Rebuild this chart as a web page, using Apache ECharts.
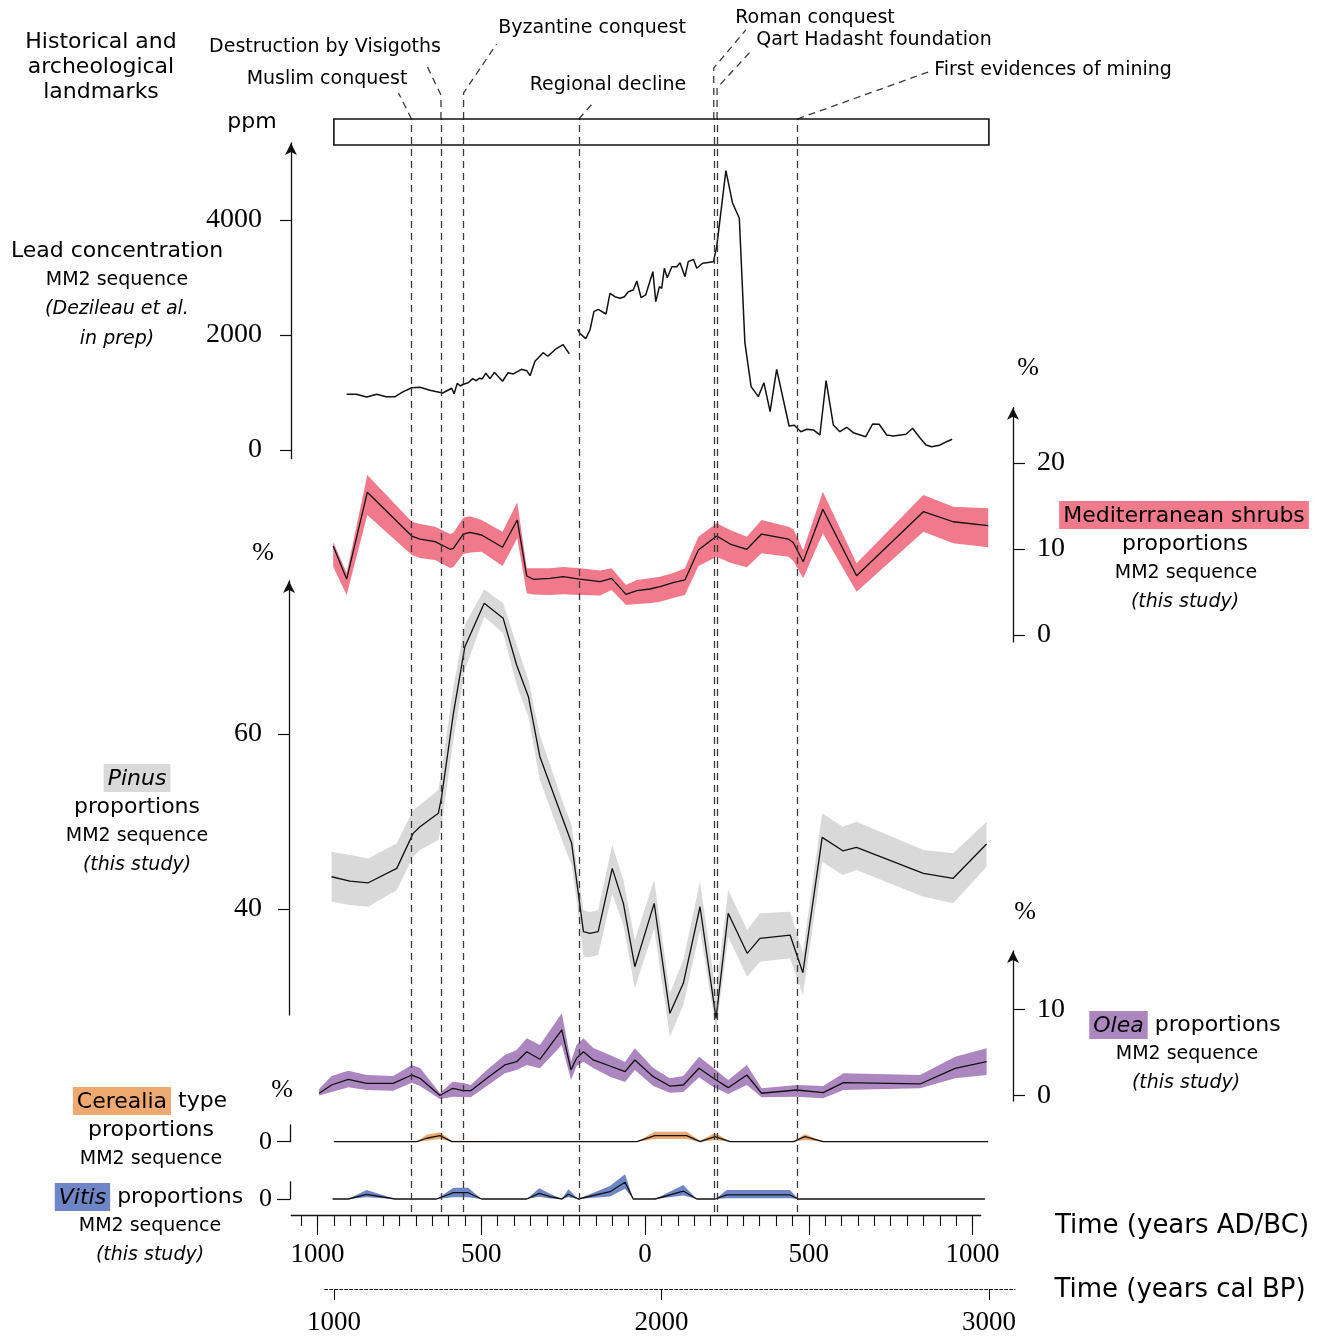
<!DOCTYPE html>
<html><head><meta charset="utf-8">
<script src="https://cdn.jsdelivr.net/npm/echarts@6/dist/echarts.min.js"></script>
<style>html,body{margin:0;padding:0;background:#fff}#c{width:1326px;height:1336px}</style>
</head><body><div id="c"></div>
<script>
// ---------------- DATA (years: AD positive, BC negative) ----------------
const leadYears = [911,882,850,819,791,763,738,712,687,657,618,590,583,573,564,555,540,526,516,506,497,486,473,460,435,418,402,377,361,351,336,311,297,272,250,244,231,218,206,199,181,168,156,143,119,107,92,76,63,51,36,25,12,-2,-24,-33,-44,-51,-59,-68,-82,-97,-107,-122,-132,-148,-158,-176,-209,-219,-247,-267,-288,-305,-324,-346,-363,-382,-402,-440,-456,-476,-494,-514,-534,-553,-575,-595,-616,-636,-674,-695,-715,-738,-758,-797,-817,-838,-858,-875,-899,-921,-938];
const leadPpm = [969,969,922,969,927,927,1014,1083,1090,1038,991,1073,979,1160,1113,1143,1170,1240,1205,1247,1235,1334,1240,1351,1195,1344,1322,1403,1379,1292,1543,1692,1630,1757,1831,1838,1670,null,2099,2030,1936,2087,2405,2447,2365,2725,2666,2638,2666,2753,2783,2939,2649,2696,3101,2579,2840,2812,3160,2996,3188,3188,3257,3014,3275,3316,3160,3247,3275,3536,4857,4301,4029,1866,1101,927,1170,666,1403,417,430,318,360,348,261,1205,435,318,395,301,231,452,447,261,243,273,377,221,87,57,82,144,186];

const shrubYears = [952,911,848,712,687,641,595,585,555,534,499,435,390,361,341,290,250,199,137,102,58,25,-15,-46,-86,-122,-163,-219,-260,-311,-356,-438,-453,-483,-543,-646,-850,-941,-1048];
const shrubMean  = [10.35,6.51,16.59,11.51,11.16,10.85,9.97,10.08,11.74,11.94,11.63,10.2,13.37,6.86,6.48,6.59,6.78,6.51,6.2,6.59,4.73,5.15,5.35,5.62,6.08,6.4,9.88,11.51,10.58,9.97,11.74,11.16,10.73,8.52,14.62,6.9,14.34,13.17,12.71];
const shrubLow   = [7.94,4.65,13.95,9.3,8.95,8.72,7.79,7.9,9.42,9.6,9.69,8.02,11.24,4.85,4.7,4.65,4.75,4.65,4.6,5.23,3.49,3.6,3.7,3.87,4.3,4.65,8.02,9.1,8.4,7.87,9.5,9.1,8.6,6.59,11.83,5.03,12.01,10.66,10.2];
const shrubHigh  = [10.81,7.21,18.6,13.17,12.9,12.59,11.74,11.9,13.64,13.8,13.37,12.01,15.43,7.76,7.76,7.76,7.9,7.76,7.5,7.76,5.81,6.4,6.6,6.78,7.2,7.76,11.43,12.99,12.2,11.43,13.37,12.59,12.3,9.88,16.66,8.34,16.28,14.92,14.73];

const pinusYears = [957,901,845,758,708,687,631,621,585,550,491,433,392,356,321,250,224,209,188,168,143,100,66,31,-28,-76,-117,-168,-217,-254,-312,-351,-443,-482,-541,-604,-646,-850,-941,-1043];
const pinusMean  = [43.69,43.2,43.0,44.65,48.65,49.41,50.94,52.83,62.37,69.98,74.94,73.22,67.89,64.26,57.41,50.17,47.51,43.31,37.41,37.22,37.41,44.65,40.65,33.41,40.65,28.08,31.51,40.26,27.51,39.51,34.94,36.65,37.03,32.72,48.19,46.66,47.05,44.08,43.51,47.43];
const pinusLow   = [40.83,40.46,40.26,42.17,45.98,46.74,47.89,49.6,59.31,67.31,73.41,71.51,65.6,61.98,54.74,47.51,45.03,41.03,34.55,34.51,34.74,41.79,38.17,30.94,37.79,25.41,29.03,37.6,26.17,36.83,32.26,33.98,34.37,30.17,45.41,43.89,44.46,41.41,40.65,44.83];
const pinusHigh  = [46.55,46.17,45.79,47.51,51.31,51.89,53.6,55.89,65.41,72.46,76.54,74.94,70.17,66.17,59.89,52.08,49.6,45.22,39.89,39.66,39.89,47.31,43.31,36.46,43.31,30.37,34.17,43.12,30.4,42.17,37.6,39.51,39.69,34.97,50.94,49.41,49.98,46.74,46.37,49.98];

const oleaYears = [995,957,906,850,769,712,687,626,587,555,532,483,428,392,361,321,254,226,209,188,158,107,61,31,-25,-76,-117,-165,-209,-254,-311,-356,-463,-544,-606,-840,-947,-1043];
const oleaMean  = [0.26,1.22,1.88,1.42,1.42,2.38,2.0,0.0,0.84,0.56,0.56,2.0,3.55,3.93,5.09,4.21,7.62,2.97,4.33,5.09,4.13,3.43,2.77,4.13,2.19,1.1,1.22,3.16,2.0,0.91,2.38,0.26,0.64,0.33,1.49,1.34,3.16,3.93];
const oleaLow   = [0.0,0.41,0.95,0.64,0.56,1.49,1.1,-0.4,-0.14,-0.17,-0.21,1.1,2.58,2.97,3.55,3.16,5.87,1.8,3.43,3.93,3.2,2.19,1.57,2.97,1.1,0.33,0.41,2.12,0.99,0.17,1.22,-0.21,-0.14,-0.33,0.64,0.84,2.0,2.38];
const oleaHigh  = [0.76,2.27,2.88,2.38,2.27,3.55,3.2,0.29,1.6,1.45,1.22,2.97,4.71,5.29,6.65,5.87,9.56,3.93,5.87,6.65,5.52,4.71,3.9,5.49,3.2,2.0,2.27,4.51,3.2,1.8,3.55,0.84,1.22,1.1,2.58,2.38,4.51,5.49];

const cerYears = [950,697,667,626,590,25,-30,-127,-168,-214,-260,-453,-488,-544,-1048];
const cerMean  = [0,0,0.4,0.7,0,0,0.7,0.7,0,0.6,0,0,0.58,0,0];
const cerLow   = [0,0,0.1,0.3,0,0,0.3,0.3,0,0.2,0,0,0.2,0,0];
const cerHigh  = [0,0,0.8,1.1,0.1,0,1.16,1.16,0.1,1.0,0,0,0.9,0,0];

const vitYears = [954,906,850,763,636,585,540,499,361,323,290,254,234,204,107,61,36,-31,-117,-158,-214,-250,-443,-468,-1038];
const vitMean  = [0,0,0.55,0,0,0.73,0.73,0,0,0.66,0.27,0,0.55,0,0.85,1.94,0,0,0.93,0,0,0.47,0.47,0,0];
const vitLow   = [0,0,0.2,0,0,0.2,0.2,0,0,0.25,0.05,0,0.2,0,0.3,1.2,0,0,0.4,0,0,0.1,0.1,0,0];
const vitHigh  = [0,0,1.05,0,0,1.31,1.31,0,0,1.24,0.6,0,1.13,0,1.5,2.87,0,0,1.63,0,0,1.05,1.05,0,0];

const landmarkYears = [713,623,554,202,-210,-220,-465];
const landmarkNames = ['Muslim conquest','Destruction by Visigoths','Byzantine conquest','Regional decline','Roman conquest','Qart Hadasht foundation','First evidences of mining'];

const leadTicks = [0,2000,4000];
const shrubTicks = [0,10,20];
const pinusTicks = [40,60];
const oleaTicks = [0,10];
const zeroTick = [0];
const timeMajorTicks = [-1000,-500,0,500,1000];
const bpTicks = [1000,2000,3000];

// ---------------- LAYOUT ----------------
const SANS = 'DejaVu Sans', SERIF = 'Liberation Serif';
const X0 = 645, K = 0.3275;               // pixel of year 0, px per year
const pxOf = v => X0 - K * v;
const DMIN = -1100, DMAX = 1100;
const DL = pxOf(DMAX), DR = 1326 - pxOf(DMIN);
const INK = '#111';
const plain = v => String(Math.abs(v));

function grid(top, bottom, left, right) {
  return {left: left == null ? DL : left, right: right == null ? DR : right, top: top, height: bottom - top,
          containLabel: false, outerBoundsMode: 'none', show: false};
}
const grids = [
  grid(143.0, 458.6),   // 0 lead
  grid(407.7, 641.9),   // 1 shrubs
  grid(581, 1015),      // 2 pinus
  grid(951, 1101),      // 3 olea
  grid(1125, 1141.7),   // 4 cerealia
  grid(1181.8, 1199),   // 5 vitis
  grid(1200, 1215, pxOf(1080), 1326 - pxOf(-1025)), // 6 time AD/BC
  grid(1280, 1289, X0 + K * (972 - 1950), 1326 - (X0 + K * (3080 - 1950))), // 7 BP
  grid(119, 1212)       // 8 landmarks
];

const minorTicks = [];
for (let v = -1000; v <= 1050; v += 50) minorTicks.push(v);

const hiddenX = i => ({gridIndex: i, type: 'value', min: DMIN, max: DMAX, inverse: true, show: false});
const xAxes = [hiddenX(0), hiddenX(1), hiddenX(2), hiddenX(3), hiddenX(4), hiddenX(5),
  {gridIndex: 6, type: 'value', min: -1025, max: 1080, inverse: true, position: 'bottom',
   axisLine: {show: true, onZero: false, lineStyle: {color: INK, width: 1.3}},
   axisTick: {show: true, customValues: minorTicks, length: 11, lineStyle: {color: INK, width: 1.1}},
   axisLabel: {show: false}, splitLine: {show: false}},
  {gridIndex: 6, type: 'value', min: -1025, max: 1080, inverse: true, position: 'bottom',
   axisLine: {show: false, onZero: false},
   axisTick: {show: true, customValues: timeMajorTicks, length: 20, lineStyle: {color: INK, width: 1.1}},
   axisLabel: {show: true, customValues: timeMajorTicks, formatter: plain,
               fontFamily: SERIF, fontSize: 27, color: '#000', margin: 26},
   splitLine: {show: false}},
  {gridIndex: 7, type: 'value', min: 972, max: 3080, position: 'bottom',
   axisLine: {show: true, onZero: false, lineStyle: {color: INK, width: 1, type: [3, 2]}},
   axisTick: {show: true, customValues: bpTicks, length: 11, lineStyle: {color: INK, width: 1.1}},
   axisLabel: {show: true, customValues: bpTicks, formatter: plain, fontFamily: SERIF, fontSize: 27, color: '#000', margin: 20},
   splitLine: {show: false}},
  hiddenX(8)
];
const LM_X = 9, BP_X = 8;

const axLine = arrow => ({show: true, onZero: false, symbol: arrow ? ['none', 'arrow'] : ['none', 'none'], symbolSize: [9, 12],
                          lineStyle: {color: INK, width: 1.3}});
function yAx(gi, min, max, pos, offset, ticks, arrow, margin, tlen) {
  return {gridIndex: gi, type: 'value', min, max, position: pos, offset,
    axisLine: axLine(arrow),
    axisTick: {show: true, customValues: ticks, length: tlen || 12, lineStyle: {color: INK, width: 1.2}},
    axisLabel: {show: true, customValues: ticks, formatter: plain, fontFamily: SERIF, fontSize: 28, color: '#000', margin},
    splitLine: {show: false}};
}
const hiddenY = i => ({gridIndex: i, type: 'value', min: 0, max: 1, show: false});
const yAxes = [
  yAx(0, -150, 5339, 'left', -(291 - DL), leadTicks, true, 29, 11),
  yAx(1, -0.8, 26.43, 'right', 1013 - (1326 - DR), shrubTicks, true, 24, 12),
  yAx(2, 27.89, 77.49, 'left', -(289 - DL), pinusTicks, true, 27, 11),
  yAx(3, -0.64, 16.8, 'right', 1013 - (1326 - DR), oleaTicks, true, 24, 12),
  yAx(4, 0, 1.94, 'left', -(290 - DL), zeroTick, false, 18, 13),
  yAx(5, 0, 2.0, 'left', -(290 - DL), zeroTick, false, 18, 13),
  hiddenY(6), hiddenY(7), hiddenY(8)
];
yAxes[4].axisLabel.fontSize = 26; yAxes[5].axisLabel.fontSize = 26;

function band(gi, years, lo, hi, color) {
  return {type: 'custom', xAxisIndex: gi, yAxisIndex: gi, silent: true, z: 2,
    data: years.map((y, i) => [y, lo[i], hi[i]]), encode: {x: 0, y: [1, 2]},
    renderItem(params, api) {
      if (params.dataIndex !== 0) return;
      const top = years.map((y, i) => api.coord([y, hi[i]]));
      const bot = years.map((y, i) => api.coord([y, lo[i]])).reverse();
      return {type: 'polygon', shape: {points: top.concat(bot)}, style: {fill: color}};
    }};
}
function meanLine(gi, years, vals, w) {
  return {type: 'line', xAxisIndex: gi, yAxisIndex: gi, data: years.map((y, i) => [y, vals[i]]),
    symbol: 'none', clip: false, connectNulls: false, silent: true, z: 3,
    lineStyle: {color: INK, width: w || 1.3}};
}

const C_SHRUB = '#F07A8B', C_PINUS = '#D9D9D9', C_OLEA = '#AB86BF', C_CER = '#EDA96F', C_VIT = '#6E86C6';

const series = [
  meanLine(0, leadYears, leadPpm, 1.5),
  band(1, shrubYears, shrubLow, shrubHigh, C_SHRUB), meanLine(1, shrubYears, shrubMean),
  band(2, pinusYears, pinusLow, pinusHigh, C_PINUS), meanLine(2, pinusYears, pinusMean),
  band(3, oleaYears, oleaLow, oleaHigh, C_OLEA), meanLine(3, oleaYears, oleaMean),
  band(4, cerYears, cerLow, cerHigh, C_CER), meanLine(4, cerYears, cerMean),
  band(5, vitYears, vitLow, vitHigh, C_VIT), meanLine(5, vitYears, vitMean),
  {type: 'line', xAxisIndex: LM_X, yAxisIndex: 8, data: [], symbol: 'none', silent: true, z: 6,
   markLine: {silent: true, symbol: ['none', 'none'], label: {show: false}, animation: false,
     lineStyle: {type: [7, 5], color: '#3a3a3a', width: 1.3},
     data: landmarkYears.map(v => ({xAxis: v}))}}
];

const chart = echarts.init(document.getElementById('c'), null, {renderer: 'canvas'});
chart.setOption({animation: false, backgroundColor: '#fff', grid: grids, xAxis: xAxes, yAxis: yAxes, series: series});

// ---------------- ANNOTATIONS ----------------
const lx = v => chart.convertToPixel({xAxisIndex: LM_X}, v);
const bx = v => chart.convertToPixel({xAxisIndex: BP_X}, v);
const BOX_T = 119, BOX_B = 145;
const dash = {stroke: '#3a3a3a', lineWidth: 1.3, lineDash: [7, 5], fill: null};
const leaderShapes = [
  x => [[x, BOX_T], [x - 13, 93]],
  x => [[x, BOX_T], [x, 95], [x - 14, 66]],
  x => [[x, BOX_T], [x, 93], [x + 33, 44]],
  x => [[x, BOX_T], [x + 14, 103]],
  x => [[x, BOX_T], [x, 68], [x + 32, 30]],
  x => [[x, BOX_T], [x, 88], [x + 33, 52]],
  x => [[x, BOX_T], [x + 131, 72]]
];
const labelPos = [[327, 79], [325, 47], [592, 28], [608, 85], [815, 18], [874, 40], [1053, 70]];

const g = [];
landmarkYears.forEach((v, i) => {
  g.push({type: 'polyline', shape: {points: leaderShapes[i](lx(v))}, style: dash, z: 10});
  g.push({type: 'text', x: labelPos[i][0], y: labelPos[i][1], z: 10,
    style: {text: landmarkNames[i], fontFamily: SANS, fontSize: 19, fill: '#000', align: 'center', verticalAlign: 'middle'}});
});
const x1 = bx(1000), x2 = bx(3000);
g.push({type: 'rect', shape: {x: x1, y: BOX_T, width: x2 - x1, height: BOX_B - BOX_T}, style: {stroke: INK, lineWidth: 1.6, fill: 'rgba(0,0,0,0)'}, z: 11});

function txt(s, x, y, size, opts) {
  opts = opts || {};
  const st = {text: s, fontFamily: opts.serif ? SERIF : SANS, fontSize: size, fill: '#000',
              align: opts.align || 'center', verticalAlign: 'middle', fontStyle: opts.italic ? 'italic' : 'normal'};
  if (opts.rich) st.rich = opts.rich;
  g.push({type: 'text', x, y, style: st, z: 12});
}
const hl = (color, italic) => ({hl: {backgroundColor: color, padding: [4, 4, 2, 4], fontFamily: SANS, fontSize: 22,
                                      fontStyle: italic ? 'italic' : 'normal', fill: '#000'}});
txt('Historical and', 101, 42, 22);
txt('archeological', 101, 67, 22);
txt('landmarks', 101, 92, 22);
txt('ppm', 252, 122, 22);
txt('Lead concentration', 117, 251, 22);
txt('MM2 sequence', 117, 280, 19);
txt('(Dezileau et al.', 117, 309, 19, {italic: true});
txt('in prep)', 117, 339, 19, {italic: true});

txt('%', 1028, 368, 26, {serif: true});
txt('%', 263, 553, 26, {serif: true});
txt('%', 1025, 912, 26, {serif: true});
txt('%', 282, 1090, 26, {serif: true});

txt('{hl|Mediterranean shrubs}', 1184, 515, 22, {rich: hl(C_SHRUB, false)});
txt('proportions', 1185, 544, 22);
txt('MM2 sequence', 1186, 573, 19);
txt('(this study)', 1185, 602, 19, {italic: true});

txt('{hl|Pinus}', 137, 778, 22, {rich: hl(C_PINUS, true)});
txt('proportions', 137, 807, 22);
txt('MM2 sequence', 137, 836, 19);
txt('(this study)', 137, 865, 19, {italic: true});

txt('{hl|Olea} proportions', 1185, 1025, 22, {rich: hl(C_OLEA, true)});
txt('MM2 sequence', 1187, 1054, 19);
txt('(this study)', 1186, 1083, 19, {italic: true});

txt('{hl|Cerealia} type', 150, 1101, 22, {rich: hl(C_CER, false)});
txt('proportions', 151, 1130, 22);
txt('MM2 sequence', 151, 1159, 19);

txt('{hl|Vitis} proportions', 149, 1197, 22, {rich: hl(C_VIT, true)});
txt('MM2 sequence', 150, 1226, 19);
txt('(this study)', 150, 1255, 19, {italic: true});

txt('Time (years AD/BC)', 1182, 1226, 26);
txt('Time (years cal BP)', 1180, 1290, 26);

chart.setOption({graphic: {elements: g}});
</script></body></html>
